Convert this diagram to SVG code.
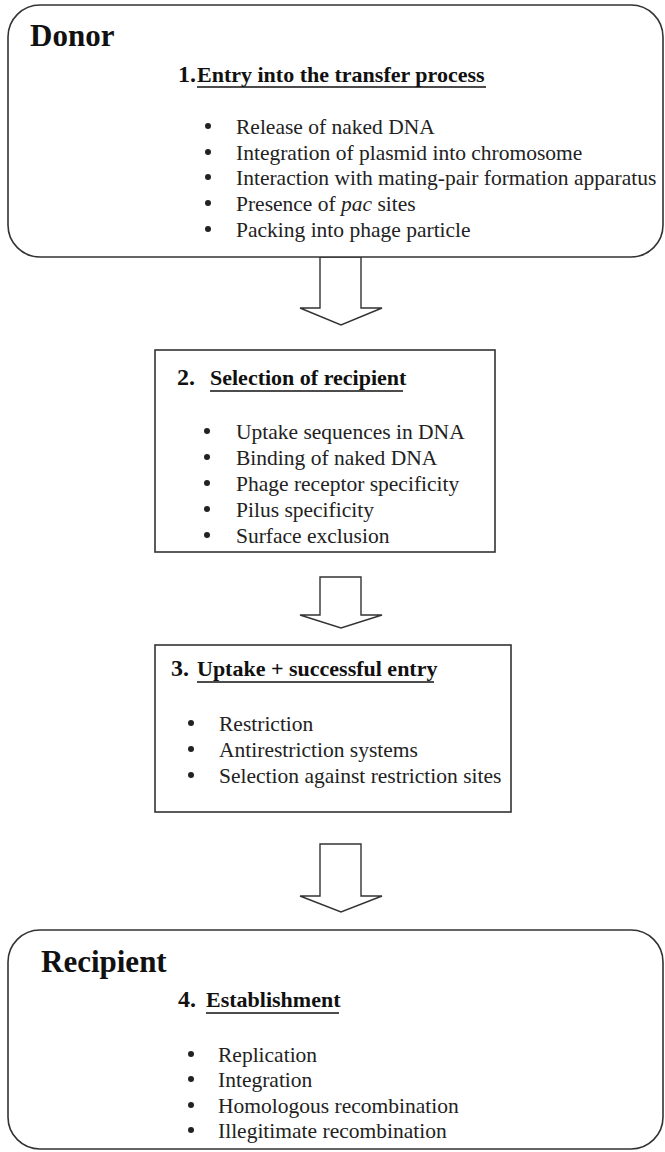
<svg xmlns="http://www.w3.org/2000/svg" width="665" height="1152" viewBox="0 0 665 1152">
<style>
.box{fill:#fff;stroke:#333;stroke-width:1.6}
.arrow{fill:#fff;stroke:#333;stroke-width:1.4;stroke-linejoin:miter}
.title{font-family:"Liberation Serif","Times New Roman",serif;font-weight:bold;font-size:31px;fill:#111}
.num{font-family:"Liberation Serif","Times New Roman",serif;font-weight:bold;font-size:24px;fill:#111}
.head{font-family:"Liberation Serif","Times New Roman",serif;font-weight:bold;font-size:22px;fill:#111}
.item{font-family:"Liberation Serif","Times New Roman",serif;font-size:21.5px;fill:#222}
.dot{fill:#222}
.ul{stroke:#111;stroke-width:1.6}
</style>
<rect width="665" height="1152" fill="#fff"/>
<g id="connectors">
  <polygon class="arrow" points="320,257 320,308 300,308 341,325 382,308 361,308 361,257"/>
  <polygon class="arrow" points="320,577 320,615 300,615 341,628 382,615 361,615 361,577"/>
  <polygon class="arrow" points="320,844 320,896 300,896 341,912 382,896 361,896 361,844"/>
</g>
<g id="donor">
  <rect class="box" x="8" y="5" width="655" height="252" rx="32" ry="32"/>
  <text class="title" x="30" y="46">Donor</text>
  <text class="num" x="178" y="82">1.</text>
  <text class="head" x="197" y="82">Entry into the transfer process</text>
  <line class="ul" x1="197" y1="87" x2="486" y2="87"/>
  <g class="dot">
    <circle cx="208" cy="126" r="3"/><circle cx="208" cy="152" r="3"/><circle cx="208" cy="177" r="3"/><circle cx="208" cy="203" r="3"/><circle cx="208" cy="229" r="3"/>
  </g>
  <g class="item">
    <text x="236" y="134">Release of naked DNA</text>
    <text x="236" y="160">Integration of plasmid into chromosome</text>
    <text x="236" y="185">Interaction with mating-pair formation apparatus</text>
    <text x="236" y="211">Presence of <tspan font-style="italic">pac</tspan> sites</text>
    <text x="236" y="237">Packing into phage particle</text>
  </g>
</g>
<g id="selection">
  <rect class="box" x="155" y="350" width="340" height="202"/>
  <text class="num" x="177" y="385">2.</text>
  <text class="head" x="210" y="385">Selection of recipient</text>
  <line class="ul" x1="210" y1="391" x2="403" y2="391"/>
  <g class="dot">
    <circle cx="207" cy="431" r="3"/><circle cx="207" cy="457" r="3"/><circle cx="207" cy="483" r="3"/><circle cx="207" cy="509" r="3"/><circle cx="207" cy="535" r="3"/>
  </g>
  <g class="item">
    <text x="236" y="439">Uptake sequences in DNA</text>
    <text x="236" y="465">Binding of naked DNA</text>
    <text x="236" y="491">Phage receptor specificity</text>
    <text x="236" y="517">Pilus specificity</text>
    <text x="236" y="543">Surface exclusion</text>
  </g>
</g>
<g id="uptake">
  <rect class="box" x="155" y="645" width="356" height="167"/>
  <text class="num" x="171" y="676">3.</text>
  <text class="head" x="197" y="676">Uptake + successful entry</text>
  <line class="ul" x1="197" y1="682" x2="434" y2="682"/>
  <g class="dot">
    <circle cx="191" cy="723" r="3"/><circle cx="191" cy="749" r="3"/><circle cx="191" cy="775" r="3"/>
  </g>
  <g class="item">
    <text x="219" y="731">Restriction</text>
    <text x="219" y="757">Antirestriction systems</text>
    <text x="219" y="783">Selection against restriction sites</text>
  </g>
</g>
<g id="recipient">
  <rect class="box" x="8" y="930" width="655" height="219" rx="32" ry="32"/>
  <text class="title" x="41" y="972" font-size="32">Recipient</text>
  <text class="num" x="178" y="1007">4.</text>
  <text class="head" x="206" y="1007">Establishment</text>
  <line class="ul" x1="206" y1="1013" x2="339" y2="1013"/>
  <g class="dot">
    <circle cx="191" cy="1054" r="3"/><circle cx="191" cy="1079" r="3"/><circle cx="191" cy="1105" r="3"/><circle cx="191" cy="1130" r="3"/>
  </g>
  <g class="item">
    <text x="218" y="1062">Replication</text>
    <text x="218" y="1087">Integration</text>
    <text x="218" y="1113">Homologous recombination</text>
    <text x="218" y="1138">Illegitimate recombination</text>
  </g>
</g>
</svg>
